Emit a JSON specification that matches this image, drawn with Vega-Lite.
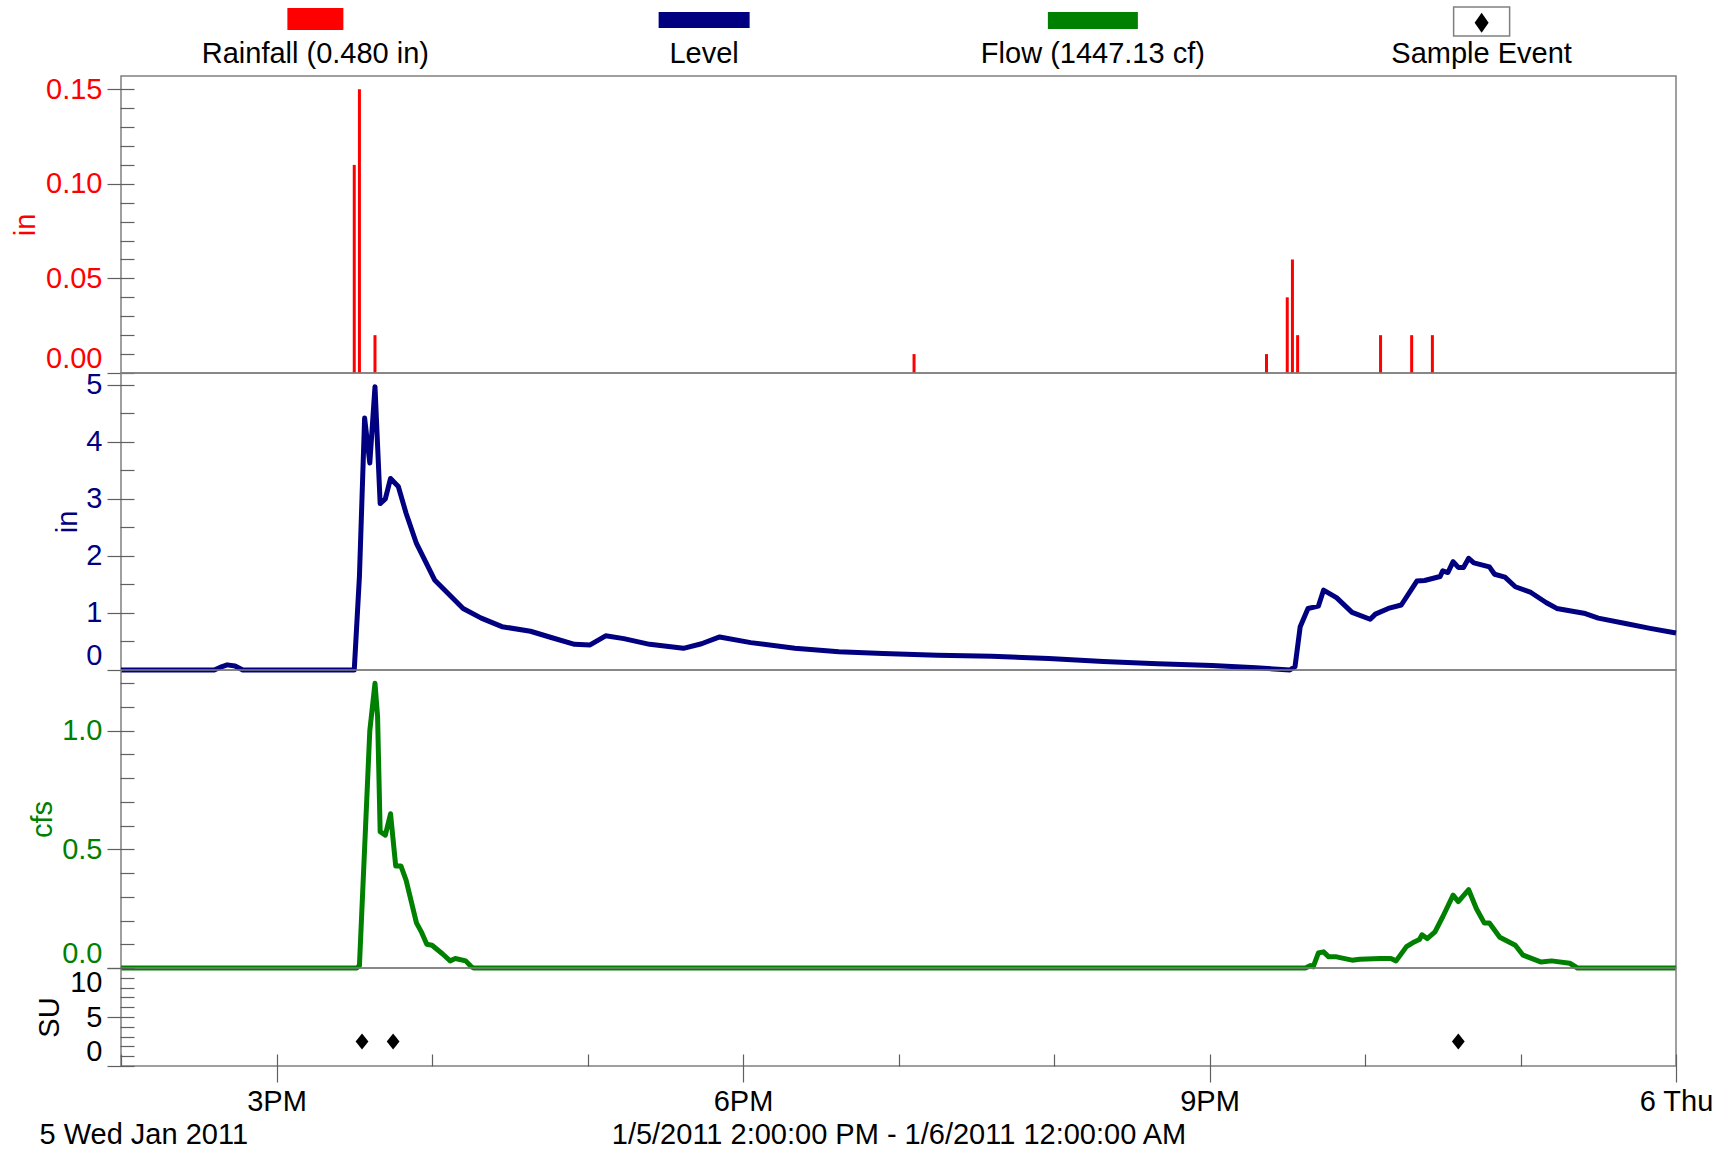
{
  "$schema": "https://vega.github.io/schema/vega-lite/v6.json",
  "background": "white",
  "padding": {"left": 10, "top": 0, "right": 0, "bottom": 0},
  "config": {
    "font": "Liberation Sans",
    "view": {"stroke": "#808080", "strokeWidth": 1.5},
    "axis": {
      "labelFont": "Liberation Sans",
      "titleFont": "Liberation Sans",
      "labelFontSize": 29,
      "titleFontSize": 29,
      "titleFontWeight": "normal",
      "tickColor": "#606060",
      "tickWidth": 1.2,
      "domain": false,
      "grid": false,
      "labelOverlap": false,
      "labelLimit": 0
    }
  },
  "datasets": {
    "legend": [
      {"series": "Rainfall (0.480 in)"},
      {"series": "Level"},
      {"series": "Flow (1447.13 cf)"},
      {"series": "Sample Event"}
    ],
    "rain": [
      {"t": "2011-01-05T15:30", "v": 0.11},
      {"t": "2011-01-05T15:32", "v": 0.15},
      {"t": "2011-01-05T15:38", "v": 0.02},
      {"t": "2011-01-05T19:06", "v": 0.01},
      {"t": "2011-01-05T21:22", "v": 0.01},
      {"t": "2011-01-05T21:30", "v": 0.04},
      {"t": "2011-01-05T21:32", "v": 0.06},
      {"t": "2011-01-05T21:34", "v": 0.02},
      {"t": "2011-01-05T22:06", "v": 0.02},
      {"t": "2011-01-05T22:18", "v": 0.02},
      {"t": "2011-01-05T22:26", "v": 0.02}
    ],
    "level": [
      {"t": "2011-01-05T14:00", "v": 0},
      {"t": "2011-01-05T14:36", "v": 0},
      {"t": "2011-01-05T14:39", "v": 0.06},
      {"t": "2011-01-05T14:41", "v": 0.09},
      {"t": "2011-01-05T14:44", "v": 0.07},
      {"t": "2011-01-05T14:47", "v": 0},
      {"t": "2011-01-05T15:30", "v": 0},
      {"t": "2011-01-05T15:32", "v": 1.64},
      {"t": "2011-01-05T15:34", "v": 4.42},
      {"t": "2011-01-05T15:36", "v": 3.63},
      {"t": "2011-01-05T15:38", "v": 4.97},
      {"t": "2011-01-05T15:40", "v": 2.92},
      {"t": "2011-01-05T15:42", "v": 3.0},
      {"t": "2011-01-05T15:44", "v": 3.36},
      {"t": "2011-01-05T15:47", "v": 3.22},
      {"t": "2011-01-05T15:50", "v": 2.75},
      {"t": "2011-01-05T15:54", "v": 2.22},
      {"t": "2011-01-05T16:01", "v": 1.58},
      {"t": "2011-01-05T16:12", "v": 1.08},
      {"t": "2011-01-05T16:19", "v": 0.91},
      {"t": "2011-01-05T16:27", "v": 0.76},
      {"t": "2011-01-05T16:38", "v": 0.68},
      {"t": "2011-01-05T16:46", "v": 0.57},
      {"t": "2011-01-05T16:55", "v": 0.45},
      {"t": "2011-01-05T17:01", "v": 0.44},
      {"t": "2011-01-05T17:07", "v": 0.60},
      {"t": "2011-01-05T17:14", "v": 0.55},
      {"t": "2011-01-05T17:24", "v": 0.45},
      {"t": "2011-01-05T17:37", "v": 0.38},
      {"t": "2011-01-05T17:44", "v": 0.46},
      {"t": "2011-01-05T17:51", "v": 0.58},
      {"t": "2011-01-05T18:03", "v": 0.48},
      {"t": "2011-01-05T18:20", "v": 0.38},
      {"t": "2011-01-05T18:37", "v": 0.32},
      {"t": "2011-01-05T18:54", "v": 0.29},
      {"t": "2011-01-05T19:15", "v": 0.26},
      {"t": "2011-01-05T19:36", "v": 0.24},
      {"t": "2011-01-05T19:58", "v": 0.20},
      {"t": "2011-01-05T20:19", "v": 0.15},
      {"t": "2011-01-05T20:40", "v": 0.11},
      {"t": "2011-01-05T21:01", "v": 0.08},
      {"t": "2011-01-05T21:18", "v": 0.04},
      {"t": "2011-01-05T21:28", "v": 0.01},
      {"t": "2011-01-05T21:31", "v": 0},
      {"t": "2011-01-05T21:33", "v": 0.06},
      {"t": "2011-01-05T21:35", "v": 0.76},
      {"t": "2011-01-05T21:38", "v": 1.08},
      {"t": "2011-01-05T21:42", "v": 1.12},
      {"t": "2011-01-05T21:44", "v": 1.40},
      {"t": "2011-01-05T21:49", "v": 1.27},
      {"t": "2011-01-05T21:55", "v": 1.01},
      {"t": "2011-01-05T22:02", "v": 0.89},
      {"t": "2011-01-05T22:04", "v": 0.98},
      {"t": "2011-01-05T22:09", "v": 1.08},
      {"t": "2011-01-05T22:14", "v": 1.14},
      {"t": "2011-01-05T22:19", "v": 1.49},
      {"t": "2011-01-05T22:20", "v": 1.56},
      {"t": "2011-01-05T22:23", "v": 1.57},
      {"t": "2011-01-05T22:29", "v": 1.64},
      {"t": "2011-01-05T22:30", "v": 1.74},
      {"t": "2011-01-05T22:32", "v": 1.71},
      {"t": "2011-01-05T22:34", "v": 1.90},
      {"t": "2011-01-05T22:36", "v": 1.80},
      {"t": "2011-01-05T22:38", "v": 1.80},
      {"t": "2011-01-05T22:40", "v": 1.96},
      {"t": "2011-01-05T22:42", "v": 1.88},
      {"t": "2011-01-05T22:48", "v": 1.81},
      {"t": "2011-01-05T22:50", "v": 1.68},
      {"t": "2011-01-05T22:54", "v": 1.63},
      {"t": "2011-01-05T22:58", "v": 1.46},
      {"t": "2011-01-05T23:04", "v": 1.36},
      {"t": "2011-01-05T23:10", "v": 1.18},
      {"t": "2011-01-05T23:14", "v": 1.08},
      {"t": "2011-01-05T23:25", "v": 0.99},
      {"t": "2011-01-05T23:30", "v": 0.91},
      {"t": "2011-01-05T23:41", "v": 0.81},
      {"t": "2011-01-05T23:50", "v": 0.73},
      {"t": "2011-01-06T00:00", "v": 0.65}
    ],
    "flow": [
      {"t": "2011-01-05T14:00", "v": 0},
      {"t": "2011-01-05T15:31", "v": 0},
      {"t": "2011-01-05T15:32", "v": 0.01},
      {"t": "2011-01-05T15:36", "v": 1.00},
      {"t": "2011-01-05T15:38", "v": 1.20},
      {"t": "2011-01-05T15:39", "v": 1.06},
      {"t": "2011-01-05T15:40", "v": 0.575},
      {"t": "2011-01-05T15:42", "v": 0.56},
      {"t": "2011-01-05T15:44", "v": 0.65},
      {"t": "2011-01-05T15:46", "v": 0.43},
      {"t": "2011-01-05T15:48", "v": 0.43},
      {"t": "2011-01-05T15:50", "v": 0.37},
      {"t": "2011-01-05T15:54", "v": 0.19},
      {"t": "2011-01-05T15:56", "v": 0.15},
      {"t": "2011-01-05T15:58", "v": 0.10},
      {"t": "2011-01-05T16:00", "v": 0.096},
      {"t": "2011-01-05T16:04", "v": 0.06},
      {"t": "2011-01-05T16:07", "v": 0.03},
      {"t": "2011-01-05T16:09", "v": 0.04},
      {"t": "2011-01-05T16:13", "v": 0.03},
      {"t": "2011-01-05T16:15", "v": 0.007},
      {"t": "2011-01-05T16:16", "v": 0},
      {"t": "2011-01-05T21:37", "v": 0},
      {"t": "2011-01-05T21:39", "v": 0.01},
      {"t": "2011-01-05T21:40", "v": 0.005},
      {"t": "2011-01-05T21:42", "v": 0.063},
      {"t": "2011-01-05T21:44", "v": 0.068},
      {"t": "2011-01-05T21:46", "v": 0.047},
      {"t": "2011-01-05T21:49", "v": 0.047},
      {"t": "2011-01-05T21:55", "v": 0.033},
      {"t": "2011-01-05T21:58", "v": 0.037},
      {"t": "2011-01-05T22:06", "v": 0.04},
      {"t": "2011-01-05T22:10", "v": 0.04},
      {"t": "2011-01-05T22:12", "v": 0.03},
      {"t": "2011-01-05T22:16", "v": 0.09},
      {"t": "2011-01-05T22:19", "v": 0.11},
      {"t": "2011-01-05T22:21", "v": 0.12},
      {"t": "2011-01-05T22:22", "v": 0.14},
      {"t": "2011-01-05T22:24", "v": 0.124},
      {"t": "2011-01-05T22:27", "v": 0.152},
      {"t": "2011-01-05T22:30", "v": 0.216},
      {"t": "2011-01-05T22:34", "v": 0.307},
      {"t": "2011-01-05T22:36", "v": 0.28},
      {"t": "2011-01-05T22:40", "v": 0.33},
      {"t": "2011-01-05T22:43", "v": 0.25},
      {"t": "2011-01-05T22:46", "v": 0.19},
      {"t": "2011-01-05T22:48", "v": 0.19},
      {"t": "2011-01-05T22:52", "v": 0.13},
      {"t": "2011-01-05T22:58", "v": 0.096},
      {"t": "2011-01-05T23:01", "v": 0.054},
      {"t": "2011-01-05T23:08", "v": 0.025},
      {"t": "2011-01-05T23:12", "v": 0.03},
      {"t": "2011-01-05T23:19", "v": 0.02},
      {"t": "2011-01-05T23:22", "v": 0},
      {"t": "2011-01-06T00:00", "v": 0}
    ],
    "samples": [
      {"t": "2011-01-05T15:33", "v": 2.5},
      {"t": "2011-01-05T15:45", "v": 2.5},
      {"t": "2011-01-05T22:36", "v": 2.5}
    ]
  },
  "spacing": 0,
  "bounds": "flush",
  "resolve": {"scale": {"x": "independent", "y": "independent"}},
  "vconcat": [
    {
      "width": 1555,
      "height": 76,
      "view": {"stroke": null},
      "data": {"name": "legend"},
      "encoding": {
        "x": {
          "field": "series",
          "type": "nominal",
          "sort": null,
          "scale": {"type": "band", "domain": ["Rainfall (0.480 in)", "Level", "Flow (1447.13 cf)", "Sample Event"], "paddingInner": 0, "paddingOuter": 0},
          "axis": null
        }
      },
      "layer": [
        {
          "transform": [{"filter": "datum.series == 'Rainfall (0.480 in)'"}],
          "mark": {"type": "point", "filled": true, "opacity": 1, "shape": "M-1,-0.393H1V0.393H-1Z", "size": 3136, "yOffset": -19},
          "encoding": {"color": {"field": "series", "type": "nominal", "scale": {"domain": ["Rainfall (0.480 in)", "Level", "Flow (1447.13 cf)", "Sample Event"], "range": ["#FF0000", "#000080", "#008000", "#000000"]}, "legend": null}}
        },
        {
          "transform": [{"filter": "datum.series == 'Level'"}],
          "mark": {"type": "point", "filled": true, "opacity": 1, "shape": "M-1,-0.176H1V0.176H-1Z", "size": 8281, "yOffset": -18},
          "encoding": {"color": {"field": "series", "type": "nominal", "scale": {"domain": ["Rainfall (0.480 in)", "Level", "Flow (1447.13 cf)", "Sample Event"], "range": ["#FF0000", "#000080", "#008000", "#000000"]}, "legend": null}}
        },
        {
          "transform": [{"filter": "datum.series == 'Flow (1447.13 cf)'"}],
          "mark": {"type": "point", "filled": true, "opacity": 1, "shape": "M-1,-0.187H1V0.187H-1Z", "size": 8100, "yOffset": -17.5},
          "encoding": {"color": {"field": "series", "type": "nominal", "scale": {"domain": ["Rainfall (0.480 in)", "Level", "Flow (1447.13 cf)", "Sample Event"], "range": ["#FF0000", "#000080", "#008000", "#000000"]}, "legend": null}}
        },
        {
          "transform": [{"filter": "datum.series == 'Sample Event'"}],
          "mark": {"type": "point", "filled": true, "opacity": 1, "fill": "white", "stroke": "#808080", "strokeWidth": 1.5, "shape": "M-1,-0.52H1V0.52H-1Z", "size": 3136, "yOffset": -16.5}
        },
        {
          "transform": [{"filter": "datum.series == 'Sample Event'"}],
          "mark": {"type": "point", "filled": true, "opacity": 1, "shape": "M0,-1L0.7,0L0,1L-0.7,0Z", "size": 400, "yOffset": -15.3},
          "encoding": {"color": {"field": "series", "type": "nominal", "scale": {"domain": ["Rainfall (0.480 in)", "Level", "Flow (1447.13 cf)", "Sample Event"], "range": ["#FF0000", "#000080", "#008000", "#000000"]}, "legend": null}}
        },
        {
          "mark": {"type": "text", "font": "Liberation Sans", "fontSize": 29, "color": "#000000", "baseline": "middle", "dy": 16},
          "encoding": {"text": {"field": "series"}}
        }
      ]
    },
    {
      "width": 1555,
      "height": 297,
      "data": {"name": "rain"},
      "mark": {"type": "rule", "strokeWidth": 3},
      "encoding": {
        "x": {"field": "t", "type": "temporal", "scale": {"domain": [{"year": 2011, "month": 1, "date": 5, "hours": 14}, {"year": 2011, "month": 1, "date": 6, "hours": 0}]}, "axis": null},
        "y": {
          "field": "v",
          "type": "quantitative",
          "scale": {"domain": [0, 0.157], "nice": false},
          "axis": {
            "title": "in",
            "titleColor": "#FF0000",
            "labelColor": "#FF0000",
            "titleX": -100,
            "titleBaseline": "alphabetic",
            "values": [0, 0.01, 0.02, 0.03, 0.04, 0.05, 0.06, 0.07, 0.08, 0.09, 0.1, 0.11, 0.12, 0.13, 0.14, 0.15],
            "offset": -13,
            "labelPadding": 5,
            "labelFlush": true,
            "tickSize": {"condition": {"test": "round(datum.value * 100) % 5 == 0", "value": 27}, "value": 14},
            "labelExpr": "round(datum.value * 100) % 5 == 0 ? format(datum.value, '.2f') : ''"
          }
        },
        "y2": {"datum": 0},
        "color": {"datum": "Rainfall (0.480 in)", "type": "nominal", "scale": {"domain": ["Rainfall (0.480 in)", "Level", "Flow (1447.13 cf)", "Sample Event"], "range": ["#FF0000", "#000080", "#008000", "#000000"]}, "legend": null}
      }
    },
    {
      "width": 1555,
      "height": 297,
      "data": {"name": "level"},
      "mark": {"type": "line", "strokeWidth": 5, "strokeJoin": "round"},
      "encoding": {
        "x": {"field": "t", "type": "temporal", "scale": {"domain": [{"year": 2011, "month": 1, "date": 5, "hours": 14}, {"year": 2011, "month": 1, "date": 6, "hours": 0}]}, "axis": null},
        "y": {
          "field": "v",
          "type": "quantitative",
          "scale": {"domain": [0, 5.21], "nice": false},
          "axis": {
            "title": "in",
            "titleColor": "#000080",
            "labelColor": "#000080",
            "titleX": -58,
            "titleBaseline": "alphabetic",
            "values": [0, 0.5, 1, 1.5, 2, 2.5, 3, 3.5, 4, 4.5, 5],
            "offset": -13,
            "labelPadding": 5,
            "labelFlush": true,
            "tickSize": {"condition": {"test": "datum.value % 1 == 0", "value": 27}, "value": 14},
            "labelExpr": "datum.value % 1 == 0 ? format(datum.value, 'd') : ''"
          }
        },
        "color": {"datum": "Level", "type": "nominal", "scale": {"domain": ["Rainfall (0.480 in)", "Level", "Flow (1447.13 cf)", "Sample Event"], "range": ["#FF0000", "#000080", "#008000", "#000000"]}, "legend": null}
      }
    },
    {
      "width": 1555,
      "height": 298,
      "data": {"name": "flow"},
      "mark": {"type": "line", "strokeWidth": 5, "strokeJoin": "round"},
      "encoding": {
        "x": {"field": "t", "type": "temporal", "scale": {"domain": [{"year": 2011, "month": 1, "date": 5, "hours": 14}, {"year": 2011, "month": 1, "date": 6, "hours": 0}]}, "axis": null},
        "y": {
          "field": "v",
          "type": "quantitative",
          "scale": {"domain": [0, 1.256], "nice": false},
          "axis": {
            "title": "cfs",
            "titleColor": "#008000",
            "labelColor": "#008000",
            "titleX": -83,
            "titleBaseline": "alphabetic",
            "values": [0, 0.1, 0.2, 0.3, 0.4, 0.5, 0.6, 0.7, 0.8, 0.9, 1.0, 1.1, 1.2],
            "offset": -13,
            "labelPadding": 5,
            "labelFlush": true,
            "tickSize": {"condition": {"test": "round(datum.value * 10) % 5 == 0", "value": 27}, "value": 14},
            "labelExpr": "round(datum.value * 10) % 5 == 0 ? format(datum.value, '.1f') : ''"
          }
        },
        "color": {"datum": "Flow (1447.13 cf)", "type": "nominal", "scale": {"domain": ["Rainfall (0.480 in)", "Level", "Flow (1447.13 cf)", "Sample Event"], "range": ["#FF0000", "#000080", "#008000", "#000000"]}, "legend": null}
      }
    },
    {
      "width": 1555,
      "height": 98,
      "data": {"name": "samples"},
      "mark": {"type": "point", "filled": true, "opacity": 1, "shape": "M0,-1L0.8,0L0,1L-0.8,0Z", "size": 256},
      "encoding": {
        "x": {
          "field": "t",
          "type": "temporal",
          "scale": {"domain": [{"year": 2011, "month": 1, "date": 5, "hours": 14}, {"year": 2011, "month": 1, "date": 6, "hours": 0}]},
          "axis": {
            "title": "1/5/2011 2:00:00 PM - 1/6/2011 12:00:00 AM",
            "titleColor": "#000000",
            "titleBaseline": "alphabetic",
            "titleY": 89,
            "labelColor": "#000000",
            "values": [
              {"year": 2011, "month": 1, "date": 5, "hours": 14},
              {"year": 2011, "month": 1, "date": 5, "hours": 15},
              {"year": 2011, "month": 1, "date": 5, "hours": 16},
              {"year": 2011, "month": 1, "date": 5, "hours": 17},
              {"year": 2011, "month": 1, "date": 5, "hours": 18},
              {"year": 2011, "month": 1, "date": 5, "hours": 19},
              {"year": 2011, "month": 1, "date": 5, "hours": 20},
              {"year": 2011, "month": 1, "date": 5, "hours": 21},
              {"year": 2011, "month": 1, "date": 5, "hours": 22},
              {"year": 2011, "month": 1, "date": 5, "hours": 23},
              {"year": 2011, "month": 1, "date": 6, "hours": 0}
            ],
            "offset": -12,
            "labelFlush": false,
            "labelLimit": 0,
            "tickSize": {"condition": {"test": "hours(datum.value) % 3 == 0", "value": 28}, "value": 12},
            "labelPadding": {"condition": {"test": "hours(datum.value) == 14", "value": 54}, "value": 5},
            "labelAlign": {"condition": {"test": "hours(datum.value) == 14", "value": "left"}, "value": "center"},
            "labelOffset": {"condition": {"test": "hours(datum.value) == 14", "value": -82}, "value": 0},
            "labelExpr": "hours(datum.value) == 14 ? timeFormat(datum.value, '%-d %a %b %Y') : hours(datum.value) == 0 ? timeFormat(datum.value, '%-d %a') : hours(datum.value) % 3 == 0 ? timeFormat(datum.value, '%-I%p') : ''"
          }
        },
        "y": {
          "field": "v",
          "type": "quantitative",
          "scale": {"domain": [0, 10], "nice": false},
          "axis": {
            "title": "SU",
            "titleColor": "#000000",
            "labelColor": "#000000",
            "titleX": -76,
            "titleBaseline": "alphabetic",
            "values": [0, 1, 2, 3, 4, 5, 6, 7, 8, 9, 10],
            "offset": -13,
            "labelPadding": 5,
            "labelFlush": true,
            "tickSize": {"condition": {"test": "datum.value % 5 == 0", "value": 27}, "value": 14},
            "labelExpr": "datum.value % 5 == 0 ? format(datum.value, 'd') : ''"
          }
        },
        "color": {"datum": "Sample Event", "type": "nominal", "scale": {"domain": ["Rainfall (0.480 in)", "Level", "Flow (1447.13 cf)", "Sample Event"], "range": ["#FF0000", "#000080", "#008000", "#000000"]}, "legend": null}
      }
    }
  ]
}
